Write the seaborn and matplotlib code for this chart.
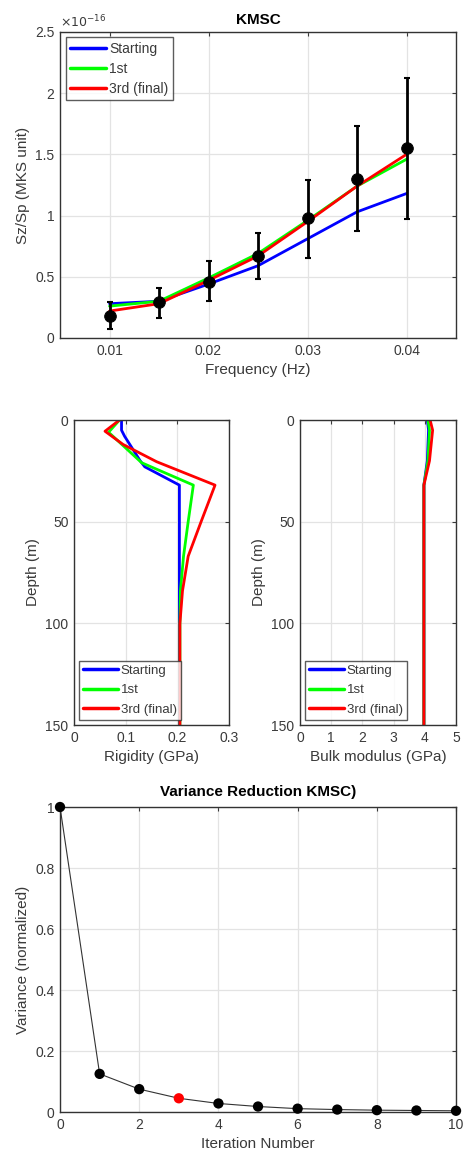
import numpy as np
import pandas as pd
import matplotlib
matplotlib.use("Agg")
import matplotlib.pyplot as plt
import seaborn as sns
from matplotlib.ticker import FuncFormatter

# ---------------- data ----------------
freq = [0.010, 0.015, 0.020, 0.025, 0.030, 0.035, 0.040]
SCALE = 1e-16
obs_ratio = [0.18, 0.29, 0.46, 0.67, 0.98, 1.30, 1.55]
obs_low = [0.07, 0.16, 0.30, 0.48, 0.65, 0.87, 0.97]
obs_high = [0.29, 0.41, 0.63, 0.86, 1.29, 1.73, 2.12]
ratio_starting = [0.28, 0.30, 0.44, 0.59, 0.81, 1.03, 1.18]
ratio_1st = [0.26, 0.30, 0.49, 0.69, 0.96, 1.24, 1.46]
ratio_final = [0.22, 0.28, 0.47, 0.67, 0.95, 1.24, 1.50]

depth_starting = [0, 5, 8, 20, 23, 32, 150]
rig_starting = [0.092, 0.092, 0.098, 0.128, 0.137, 0.204, 0.204]
depth_1st = [0, 6, 21, 32, 50, 67, 84, 100, 150]
rig_1st = [0.088, 0.067, 0.131, 0.231, 0.221, 0.212, 0.206, 0.205, 0.205]
depth_final = [0, 5.5, 12, 20.5, 32, 50, 67, 84, 100, 150]
rig_final = [0.088, 0.060, 0.095, 0.160, 0.273, 0.246, 0.221, 0.210, 0.205, 0.205]

depth_bulk = [0, 5, 20, 32, 150]
bulk_starting = [4.08, 4.12, 4.08, 3.97, 3.97]
bulk_1st = [4.10, 4.15, 4.10, 3.97, 3.97]
bulk_final = [4.17, 4.25, 4.15, 3.97, 3.97]

iteration = [0, 1, 2, 3, 4, 5, 6, 7, 8, 9, 10]
variance = [1.0, 0.125, 0.075, 0.045, 0.028, 0.018, 0.011, 0.008, 0.006, 0.005, 0.004]
final_iter = 3

labels = ["Starting", "1st", "3rd (final)"]
colors = ["#0000ff", "#00ff00", "#ff0000"]

# ---------------- style ----------------
sns.set_style("white")
plt.rcParams["font.family"] = ["Liberation Sans", "DejaVu Sans"]
TXT = "#3a3a3a"
plt.rcParams.update({
    "text.color": TXT, "axes.labelcolor": TXT,
    "xtick.color": TXT, "ytick.color": TXT,
    "axes.edgecolor": "#333333", "font.size": 10,
})

fig = plt.figure(figsize=(4.66, 11.61), dpi=100)
ax1 = fig.add_axes([0.1288, 0.7089, 0.8498, 0.2636])
ax2 = fig.add_axes([0.1588, 0.3755, 0.3326, 0.2627])
ax3 = fig.add_axes([0.6438, 0.3755, 0.3348, 0.2627])
ax4 = fig.add_axes([0.1288, 0.0422, 0.8498, 0.2627])


def style(ax):
    ax.grid(True, color="#e3e3e3", linewidth=0.9)
    ax.set_axisbelow(True)
    ax.tick_params(direction="in", top=True, right=True, length=3,
                   width=0.8, labelsize=10, pad=4)
    for s in ax.spines.values():
        s.set_linewidth(1.0)
        s.set_color("#333333")


def gfmt(v, pos):
    return f"{v:g}"


def style_legend(lg):
    lg.get_frame().set_edgecolor("#333333")
    lg.get_frame().set_linewidth(1.0)
    for line in lg.get_lines():
        line.set_linewidth(2.5)


# ---------------- top panel ----------------
f = np.array(freq)
for vals, lab, col in zip([ratio_starting, ratio_1st, ratio_final], labels, colors):
    sns.lineplot(x=f, y=np.array(vals) * SCALE, ax=ax1, color=col, linewidth=2.0,
                 label=lab, estimator=None, sort=False)
obs = np.array(obs_ratio) * SCALE
err = np.vstack([obs - np.array(obs_low) * SCALE, np.array(obs_high) * SCALE - obs])
ax1.errorbar(f, obs, yerr=err, fmt="none", ecolor="black", elinewidth=2.0,
             capsize=2.5, capthick=1.5, zorder=4)
sns.scatterplot(x=f, y=obs, ax=ax1, color="black", s=70, edgecolor="black",
                zorder=5, legend=False)
ax1.set_xlim(0.005, 0.045)
ax1.set_ylim(0, 2.5e-16)
ax1.set_xticks([0.01, 0.02, 0.03, 0.04])
ax1.set_yticks(np.arange(0, 2.51, 0.5) * SCALE)
ax1.yaxis.set_major_formatter(FuncFormatter(lambda v, p: f"{v / SCALE:g}"))
ax1.xaxis.set_major_formatter(FuncFormatter(gfmt))
ax1.set_xlabel("Frequency (Hz)", fontsize=11)
ax1.set_ylabel("Sz/Sp (MKS unit)", fontsize=11)
ax1.set_title("KMSC", fontsize=11, fontweight="bold", color="black", pad=6)
ax1.text(0.0, 1.005, r"$\times10^{-16}$", transform=ax1.transAxes,
         fontsize=9, ha="left", va="bottom", color=TXT)
style(ax1)
leg = ax1.legend(loc="upper left", fontsize=10, frameon=True, fancybox=False,
                 handlelength=2.6, borderpad=0.3, labelspacing=0.45,
                 handletextpad=0.25, borderaxespad=0.4)
style_legend(leg)

# ---------------- middle panels ----------------
for d, vals, lab, col in zip([depth_starting, depth_1st, depth_final],
                             [rig_starting, rig_1st, rig_final], labels, colors):
    sns.lineplot(x=vals, y=d, ax=ax2, color=col, linewidth=2.0, label=lab,
                 estimator=None, sort=False)
for vals, lab, col in zip([bulk_starting, bulk_1st, bulk_final], labels, colors):
    sns.lineplot(x=vals, y=depth_bulk, ax=ax3, color=col, linewidth=2.0, label=lab,
                 estimator=None, sort=False)

ax2.set_xlim(0, 0.3)
ax2.set_xticks([0, 0.1, 0.2, 0.3])
ax3.set_xlim(0, 5)
ax3.set_xticks([0, 1, 2, 3, 4, 5])
for ax, xl in [(ax2, "Rigidity (GPa)"), (ax3, "Bulk modulus (GPa)")]:
    ax.set_ylim(150, 0)
    ax.set_yticks([0, 50, 100, 150])
    ax.xaxis.set_major_formatter(FuncFormatter(gfmt))
    ax.set_xlabel(xl, fontsize=11)
    ax.set_ylabel("Depth (m)", fontsize=11)
    style(ax)
    lg = ax.legend(loc="lower left", fontsize=9.5, frameon=True, fancybox=False,
                   handlelength=2.6, borderpad=0.3, labelspacing=0.55,
                   handletextpad=0.25, borderaxespad=0.4)
    style_legend(lg)

# ---------------- bottom panel ----------------
sns.lineplot(x=iteration, y=variance, ax=ax4, color="#333333", linewidth=0.8,
             estimator=None, sort=False, legend=False)
pt_colors = ["red" if i == final_iter else "black" for i in iteration]
sns.scatterplot(x=iteration, y=variance, ax=ax4, c=pt_colors, s=55,
                edgecolor="none", zorder=5, legend=False, clip_on=False)
ax4.set_xlim(0, 10)
ax4.set_ylim(0, 1)
ax4.set_xticks([0, 2, 4, 6, 8, 10])
ax4.set_yticks([0, 0.2, 0.4, 0.6, 0.8, 1.0])
ax4.yaxis.set_major_formatter(FuncFormatter(gfmt))
ax4.set_xlabel("Iteration Number", fontsize=11)
ax4.set_ylabel("Variance (normalized)", fontsize=11)
ax4.set_title("Variance Reduction KMSC)", fontsize=11, fontweight="bold",
              color="black", pad=8)
style(ax4)

fig.savefig("out.png", dpi=100)
